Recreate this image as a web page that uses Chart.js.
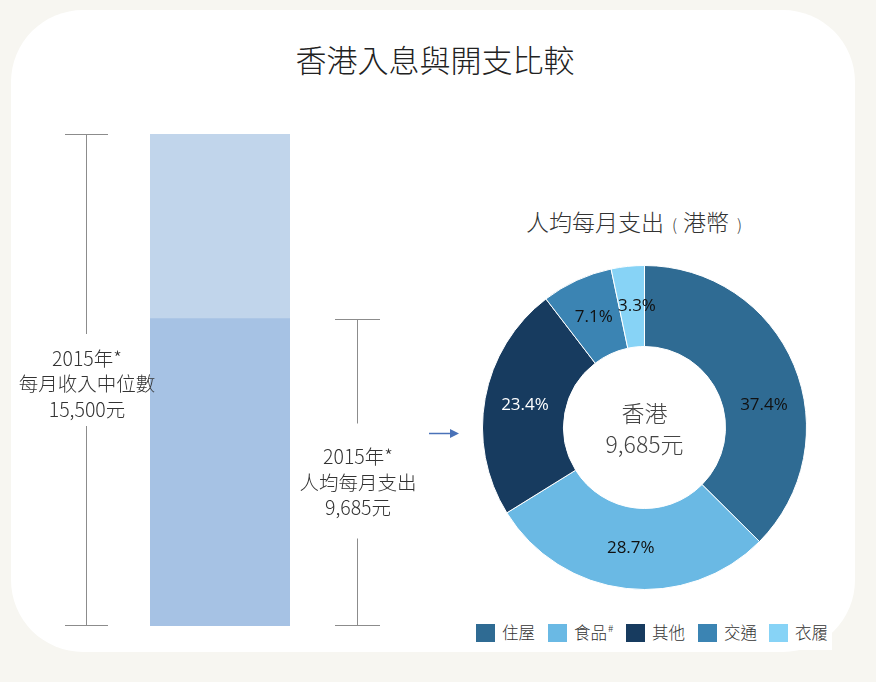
<!DOCTYPE html>
<html><head><meta charset="utf-8">
<script src="https://cdn.jsdelivr.net/npm/chart.js@4"></script>
<style>
html,body{margin:0;padding:0;background:#f7f6f1;width:876px;height:682px;overflow:hidden;font-family:"Noto Sans CJK TC","Noto Sans CJK SC",sans-serif;}
#card{position:absolute;left:11px;top:10px;width:844px;height:642px;background:#fff;border-radius:72px;}
#title{position:absolute;left:0;width:870px;top:36px;text-align:center;font-size:31px;font-weight:300;color:#222;letter-spacing:0px;}
#barWrap{position:absolute;left:0;top:100px;width:460px;height:560px;}
#pieWrap{position:absolute;left:482px;top:265px;width:325px;height:325px;}
#sub{position:absolute;left:526px;top:204px;font-size:23px;font-weight:300;color:#333;white-space:nowrap;}
#legend{position:absolute;left:470px;top:615px;width:362px;height:35px;background:#fff;}
.li{position:absolute;top:7px;height:20px;font-size:16.5px;font-weight:300;color:#333;white-space:nowrap;line-height:20px;}
.li i{display:inline-block;width:19px;height:18px;vertical-align:-3px;margin-right:7px;}
.li sup{font-size:10px;line-height:0;vertical-align:7px;margin-left:1px;}
</style></head>
<body>
<div id="card"></div>
<div id="title">香港入息與開支比較</div>
<div id="barWrap"><canvas id="bar"></canvas></div>
<div id="sub">人均每月支出<span style="font-size:16px;margin:0 6px 0 8px">(</span>港幣<span style="font-size:16px;margin-left:8px">)</span></div>
<div id="pieWrap"><canvas id="pie"></canvas></div>
<div id="legend"></div>
<script>
// ---- data ----
const incomeLabel = ['2015年*', '每月收入中位數', '15,500元'];
const spendLabel = ['2015年*', '人均每月支出', '9,685元'];
const medianIncome = [15500];
const perCapitaSpend = [9685];
const barCategories = ['2015'];
const spendCategories = ['住屋', '食品', '其他', '交通', '衣履'];
const legendSup = ['', '#', '', '', ''];
const spendShares = [37.4, 28.7, 23.4, 7.1, 3.3];
const centerText = ['香港', '9,685元'];

const sliceColors = ['#2f6b93', '#6ab9e4', '#173b5f', '#3b84b3', '#87d3f6'];
const labelColors = ['#111', '#111', '#fff', '#111', '#111'];
// label placement tweak (fraction of arc angle, radial factor)
const labelAngleShift = [0.09, 0, 0, 0, 0.2];

Chart.defaults.animation = false;

const bracketPlugin = {
  id: 'brackets',
  afterDraw(chart) {
    const {ctx, scales: {y}} = chart;
    ctx.save();
    ctx.strokeStyle = '#8c8c8c';
    ctx.lineWidth = 1;
    const font = '300 19.5px "Noto Sans CJK TC"';
    function bracket(x, v, lines, capL, capR, gapA, gapB, textOff) {
      const top = Math.round(y.getPixelForValue(v)) + 0.5;
      const bot = Math.round(y.getPixelForValue(0)) - 0.5;
      const mid = (top + bot) / 2;
      ctx.beginPath();
      ctx.moveTo(x - capL, top); ctx.lineTo(x + capR, top);
      ctx.moveTo(x - capL, bot); ctx.lineTo(x + capR, bot);
      ctx.moveTo(x + 0.5, top); ctx.lineTo(x + 0.5, mid - gapA);
      ctx.moveTo(x + 0.5, mid + gapB); ctx.lineTo(x + 0.5, bot);
      ctx.stroke();
      ctx.fillStyle = '#333';
      ctx.font = font;
      ctx.textAlign = 'center';
      ctx.textBaseline = 'middle';
      lines.forEach((t, i) => ctx.fillText(t, x + 1, mid + textOff + (i - 1) * 25.5));
    }
    bracket(86, medianIncome[0], incomeLabel, 21, 22, 46, 46, 4);
    bracket(357, perCapitaSpend[0], spendLabel, 22, 23, 49, 66, 10);
    // arrow
    const ay = 333.5;
    ctx.strokeStyle = '#4a72b8';
    ctx.fillStyle = '#4a72b8';
    ctx.lineWidth = 1.5;
    ctx.beginPath(); ctx.moveTo(429, ay); ctx.lineTo(452, ay); ctx.stroke();
    ctx.beginPath(); ctx.moveTo(459, ay); ctx.lineTo(450, ay - 4.5); ctx.lineTo(450, ay + 4.5); ctx.closePath(); ctx.fill();
    ctx.restore();
  }
};

new Chart(document.getElementById('bar'), {
  type: 'bar',
  data: {
    labels: barCategories,
    datasets: [
      {data: perCapitaSpend, backgroundColor: '#a6c2e4', grouped: false, barPercentage: 1, categoryPercentage: 1},
      {data: medianIncome, backgroundColor: '#c1d5eb', grouped: false, barPercentage: 1, categoryPercentage: 1}
    ]
  },
  options: {
    responsive: true, maintainAspectRatio: false,
    layout: {padding: {left: 150, right: 170, top: 34, bottom: 34}},
    plugins: {legend: {display: false}, tooltip: {enabled: false}},
    scales: {
      x: {display: false},
      y: {display: false, min: 0, max: medianIncome[0]}
    }
  },
  plugins: [bracketPlugin]
});

const pieLabels = {
  id: 'pieLabels',
  afterDatasetsDraw(chart) {
    const {ctx} = chart;
    const meta = chart.getDatasetMeta(0);
    ctx.save();
    ctx.font = '17px "Open Sans"';
    ctx.textAlign = 'center';
    ctx.textBaseline = 'middle';
    meta.data.forEach((arc, i) => {
      const span = arc.endAngle - arc.startAngle;
      const ang = (arc.startAngle + arc.endAngle) / 2 + span * labelAngleShift[i];
      const r = (arc.innerRadius + arc.outerRadius) / 2;
      ctx.fillStyle = labelColors[i];
      ctx.fillText(spendShares[i].toFixed(1) + '%', arc.x + Math.cos(ang) * r, arc.y + Math.sin(ang) * r);
    });
    const a = meta.data[0];
    ctx.fillStyle = '#444';
    ctx.font = '300 23px "Noto Sans CJK TC"';
    ctx.fillText(centerText[0], a.x, a.y - 14);
    ctx.fillText(centerText[1], a.x, a.y + 17);
    ctx.restore();
  }
};

new Chart(document.getElementById('pie'), {
  type: 'doughnut',
  data: {
    labels: spendCategories,
    datasets: [{data: spendShares, backgroundColor: sliceColors, borderColor: '#fff', borderWidth: 1}]
  },
  options: {
    responsive: true, maintainAspectRatio: false,
    cutout: '50%',
    layout: {padding: 0},
    plugins: {legend: {display: false}, tooltip: {enabled: false}}
  },
  plugins: [pieLabels]
});

// legend
const lg = document.getElementById('legend');
const lx = [6, 78, 156, 228, 299];
spendCategories.forEach((c, i) => {
  const d = document.createElement('div');
  d.className = 'li';
  d.style.left = lx[i] + 'px';
  d.innerHTML = '<i style="background:' + sliceColors[i] + '"></i>' + c + (legendSup[i] ? '<sup>' + legendSup[i] + '</sup>' : '');
  lg.appendChild(d);
});
</script>
</body></html>
